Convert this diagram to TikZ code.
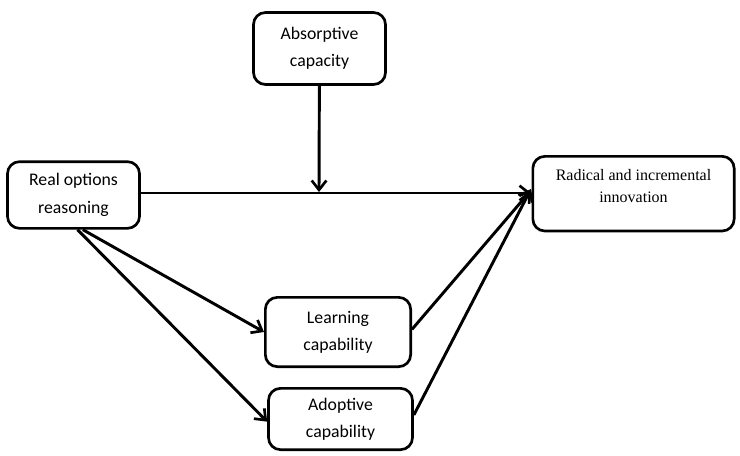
\documentclass[tikz,border=0pt]{standalone}
\usepackage{fontspec}
\setmainfont{Carlito}
\newfontfamily\timesfont{Liberation Serif}
\usetikzlibrary{positioning, arrows.meta}

\begin{document}
\begin{tikzpicture}[
    x=0.75pt, y=-0.75pt,
    box/.style={draw, rounded corners=9pt, line width=2pt, fill=white,
      align=center, font=\fontsize{13.3}{20.5}\selectfont},
    link/.style={line width=2.2pt, -{Straight Barb[length=7pt, width=11pt, line width=2pt]}}
]
  \useasboundingbox (0,0) rectangle (740,455);

  % --- BOXES ---
  \node[box, minimum width=99pt, minimum height=54pt] (abs) at (319.5,48.5) {Absorptive\\capacity};
  \node[box, minimum width=99pt, minimum height=50pt] (ro) at (73.5,195) {Real options\\reasoning};
  \node[box, minimum width=151pt, minimum height=56pt, anchor=north] (rad) at (633.5,155)
    {\timesfont\fontsize{12}{16.5}\selectfont\raisebox{5pt}[\height][\depth]{\begin{tabular}{c}Radical and incremental\\innovation\end{tabular}}};
  \node[box, minimum width=109pt, minimum height=52pt] (learn) at (338,332) {Learning\\capability};
  \node[box, minimum width=108pt, minimum height=46pt] (adopt) at (340.5,419) {Adoptive\\capability};

  % --- JUNCTION ---
  \coordinate (j) at (319,192);
  \coordinate (tip) at (531,193);

  % --- ARROWS ---
  \draw[link] (abs) -- (j);
  \draw[link] (ro.east |- tip) -- (tip);
  \draw[link] ([xshift=7pt]ro.south) -- (learn.west);
  \draw[link] ([xshift=3pt]ro.south) -- ([yshift=-2pt]adopt.west);
  \draw[link] ([yshift=2pt]learn.east) -- ([yshift=2pt]tip);
  \draw[link] ([yshift=3pt]adopt.east) -- ([yshift=3pt]tip);
\end{tikzpicture}
\end{document}
